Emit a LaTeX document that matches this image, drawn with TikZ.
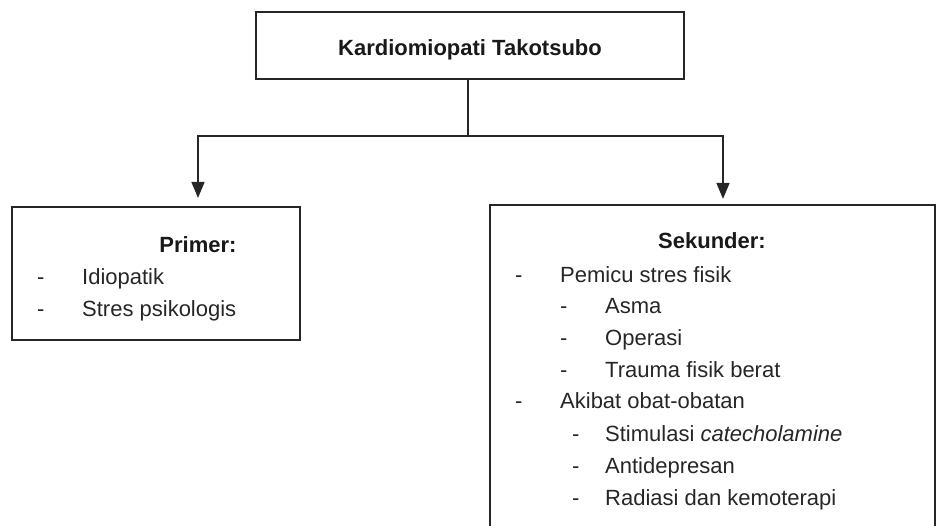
\documentclass[tikz,border=0pt]{standalone}
\usepackage{fontspec}
\setmainfont{Liberation Sans}
\usetikzlibrary{arrows.meta,positioning}

\begin{document}
\begin{tikzpicture}[x=1pt,y=-1pt,
        box/.style={draw=black!85, line width=2.2pt, inner sep=0pt},
        item/.style={anchor=base west, inner sep=0pt, text=black!85, font=\fontsize{22}{26}\selectfont},
        head/.style={anchor=base, inner sep=0pt, text=black!90, font=\fontsize{22}{26}\selectfont\bfseries},
        link/.style={line width=1.6pt, draw=black!85},
        arr/.style={link, -{Triangle[length=16pt,width=13pt]}}]
        \useasboundingbox (0,0) rectangle (937,526);
        \clip (0,0) rectangle (937,526);
        % boxes
        \node[box, minimum width=428pt, minimum height=67pt] (kt) at (470,45.5) {};
        \node[head] (kttext) at (470,56) {Kardiomiopati Takotsubo};
        \node[box, minimum width=288pt, minimum height=133pt] (primer) at (156,273.5) {};
        \node[box, minimum width=445pt, minimum height=340pt] (sekunder) at (712.5,375) {};
        % connectors
        \coordinate (split) at (468,136);
        \draw[link] (split |- kt.south) -- (split);
        \draw[arr, shorten >=8pt] (split) -| ([xshift=42pt]primer.north);
        \draw[arr, shorten >=5pt] (split) -| ([xshift=10.5pt]sekunder.north);
        % primer
        \node[head] (hprimer) at (198,253) {Primer:};
        \foreach \y/\t in {285/Idiopatik, 317/Stres psikologis}{
                \node[item] (pd\y) at (37,\y) {-};
                \node[item] (pt\y) at (82,\y) {\t};
        }
        % sekunder
        \node[head] (hsekunder) at (712,249) {Sekunder:};
        \foreach \y/\t in {283/Pemicu stres fisik, 409/Akibat obat-obatan}{
                \node[item] (sd\y) at (515,\y) {-};
                \node[item] (st\y) at (560,\y) {\t};
        }
        \foreach \y/\t in {314/Asma, 346/Operasi, 378/Trauma fisik berat}{
                \node[item] (fd\y) at (560,\y) {-};
                \node[item] (ft\y) at (605,\y) {\t};
        }
        \foreach \y/\t in {441/{Stimulasi \textit{catecholamine}}, 473/Antidepresan, 505/Radiasi dan kemoterapi}{
                \node[item] (od\y) at (572,\y) {-};
                \node[item] (ot\y) at (605,\y) {\t};
        }
\end{tikzpicture}
\end{document}
